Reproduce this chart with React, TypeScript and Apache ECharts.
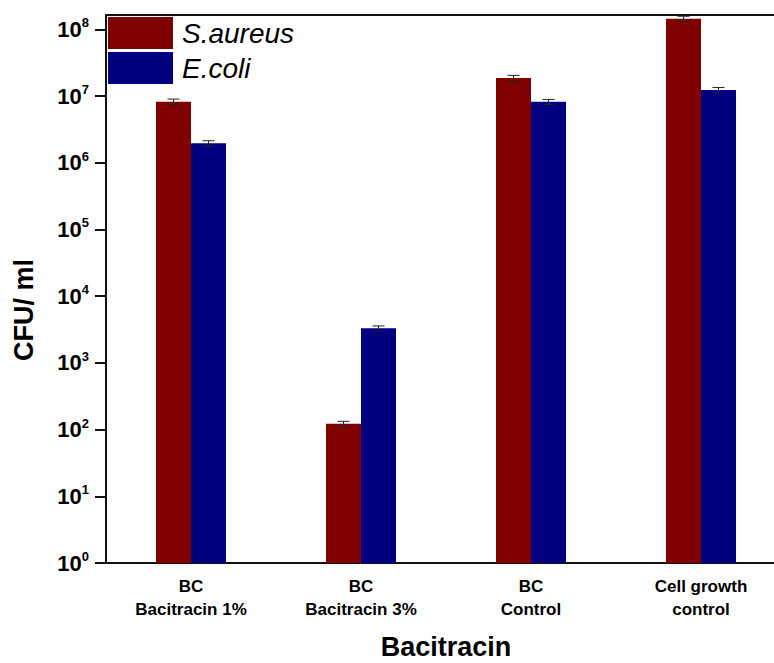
import React, { useEffect, useRef } from "react";
import * as echarts from "echarts";

const categories = ["BC\nBacitracin 1%", "BC\nBacitracin 3%", "BC\nControl", "Cell growth\ncontrol"];
const seriesNames = ["S.aureus", "E.coli"];
const sAureus = [8.2e6, 122, 1.86e7, 1.44e8];
const sAureusErr = [8e5, 11, 1.8e6, 1.3e7];
const eColi = [1.96e6, 3.3e3, 8.2e6, 1.23e7];
const eColiErr = [1.8e5, 2.8e2, 7e5, 1.1e6];
const yTicks = [1, 10, 100, 1e3, 1e4, 1e5, 1e6, 1e7, 1e8];
const yMax = 1.64e8;

const FONT = "'Liberation Sans', Arial, Helvetica, sans-serif";
const BAR_W = 35;

function errData(vals: number[], errs: number[]) {
  return vals.map((v, i) => [i, v, v - errs[i], v + errs[i]]);
}

function errSeries(name: string, vals: number[], errs: number[], offset: number) {
  return {
    type: "custom",
    name: name + "-err",
    z: 5,
    silent: true,
    data: errData(vals, errs),
    encode: { x: 0, y: 1 },
    renderItem: (params: any, api: any) => {
      const x = api.value(0);
      const lo = api.coord([x, api.value(2)]);
      const hi = api.coord([x, api.value(3)]);
      const cx = lo[0] + offset;
      const cap = 6;
      const style = { stroke: "#222", lineWidth: 1 };
      return {
        type: "group",
        children: [
          { type: "line", shape: { x1: cx, y1: lo[1], x2: cx, y2: hi[1] }, style },
          { type: "line", shape: { x1: cx - cap, y1: lo[1], x2: cx + cap, y2: lo[1] }, style },
          { type: "line", shape: { x1: cx - cap, y1: hi[1], x2: cx + cap, y2: hi[1] }, style },
        ],
      };
    },
  };
}

export default function App() {
  const ref = useRef<HTMLDivElement>(null);
  useEffect(() => {
    if (!ref.current) return;
    const chart = echarts.init(ref.current, null, { renderer: "svg" });
    chart.setOption({
      animation: false,
      backgroundColor: "#fff",
      textStyle: { fontFamily: FONT },
      grid: {
        left: 106,
        top: 15,
        width: 680,
        bottom: 100,
        containLabel: false,
        outerBoundsMode: "none",
        show: true,
        borderColor: "#111",
        borderWidth: 2,
        backgroundColor: "transparent",
      },
      legend: {
        data: seriesNames,
        orient: "vertical",
        left: 108,
        top: 17,
        itemWidth: 65,
        itemHeight: 32,
        itemGap: 3,
        padding: 0,
        icon: "rect",
        textStyle: {
          fontFamily: FONT,
          fontSize: 28,
          fontStyle: "italic",
          color: "#000",
          padding: [0, 0, 0, 4],
        },
      },
      graphic: [
        {
          type: "text",
          x: 24,
          y: 310,
          rotation: Math.PI / 2,
          style: {
            text: "CFU/ ml",
            fontFamily: FONT,
            fontSize: 27,
            fontWeight: "bold",
            fill: "#000",
            align: "center",
            verticalAlign: "middle",
          },
        },
      ],
      xAxis: {
        type: "category",
        data: categories,
        name: "Bacitracin",
        nameLocation: "middle",
        nameGap: 70,
        nameTextStyle: { fontFamily: FONT, fontSize: 27, fontWeight: "bold", color: "#000", lineHeight: 28 },
        axisLine: { lineStyle: { color: "#111", width: 2 } },
        axisTick: { alignWithLabel: true, length: 11, lineStyle: { color: "#111", width: 2 } },
        axisLabel: {
          margin: 12,
          fontFamily: FONT,
          fontSize: 17,
          fontWeight: "bold",
          color: "#000",
          lineHeight: 23,
        },
        splitLine: { show: false },
      },
      yAxis: {
        type: "log",
        logBase: 10,
        min: 1,
        max: yMax,
        axisLine: { show: true, lineStyle: { color: "#111", width: 2 } },
        axisTick: { show: true, length: 11, customValues: yTicks, lineStyle: { color: "#111", width: 2 } },
        axisLabel: {
          customValues: yTicks,
          margin: 17,
          color: "#000",
          formatter: (v: number) => `{b|10}{s|${Math.round(Math.log10(v))}}`,
          rich: {
            b: { fontFamily: FONT, fontSize: 22, fontWeight: "bold", color: "#000", lineHeight: 26 },
            s: { fontFamily: FONT, fontSize: 13, fontWeight: "bold", color: "#000", lineHeight: 12, verticalAlign: "top" },
          },
        },
        splitLine: { show: false },
        minorTick: { show: false },
      },
      series: [
        {
          name: seriesNames[0],
          type: "bar",
          data: sAureus,
          barWidth: BAR_W,
          barGap: "0%",
          itemStyle: { color: "#800000" },
        },
        {
          name: seriesNames[1],
          type: "bar",
          data: eColi,
          barWidth: BAR_W,
          barGap: "0%",
          itemStyle: { color: "#000080" },
        },
        errSeries(seriesNames[0], sAureus, sAureusErr, -BAR_W / 2),
        errSeries(seriesNames[1], eColi, eColiErr, BAR_W / 2),
      ],
    });
    return () => chart.dispose();
  }, []);
  return <div ref={ref} style={{ width: 774, height: 663, position: "absolute", left: 0, top: 0 }} />;
}
